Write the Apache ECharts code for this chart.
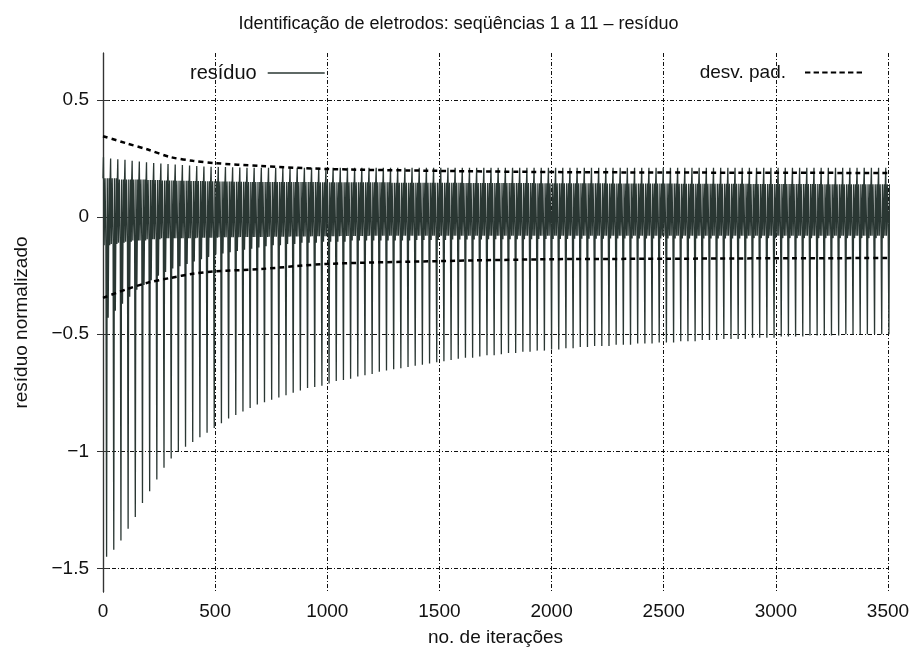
<!DOCTYPE html>
<html>
<head>
<meta charset="utf-8">
<script src="https://cdn.jsdelivr.net/npm/echarts@6/dist/echarts.min.js"></script>
<style>html,body{margin:0;padding:0;background:#fff}#c{width:917px;height:656px}</style>
</head>
<body>
<div id="c"></div>
<script>
// ---- data ----
const titleText = 'Identificação de eletrodos: seqüências 1 a 11 – resíduo';
const xTicks = [0, 500, 1000, 1500, 2000, 2500, 3000, 3500];
const yTicks = [-1.5, -1, -0.5, 0, 0.5];

// one cycle of the residual every 32 iterations; offsets inside a cycle
const cyclePeriod = 32;
const cycleOffsets = [0, 2, 5, 9, 13, 16, 19, 23, 27, 30];
const cycleLevels  = ['top', 'high', 'mid', 'top', 'mid', 'spike', 'top', 'low', 'top', 'mid'];

// lower spike tips, one per cycle
const spikeLow = [
 -1.45,-1.42,-1.38,-1.33,-1.28,-1.22,-1.17,-1.12,-1.07,-1.03,
 -1.00,-0.98,-0.96,-0.94,-0.92,-0.90,-0.88,-0.86,-0.845,-0.83,
 -0.815,-0.80,-0.79,-0.78,-0.77,-0.76,-0.75,-0.74,-0.73,-0.725,
 -0.72,-0.71,-0.70,-0.695,-0.69,-0.68,-0.675,-0.67,-0.66,-0.655,
 -0.65,-0.645,-0.64,-0.635,-0.63,-0.625,-0.62,-0.615,-0.61,-0.605,
 -0.60,-0.60,-0.595,-0.59,-0.59,-0.585,-0.58,-0.58,-0.575,-0.575,
 -0.57,-0.57,-0.565,-0.565,-0.56,-0.56,-0.555,-0.555,-0.55,-0.55,
 -0.55,-0.545,-0.545,-0.545,-0.54,-0.54,-0.54,-0.535,-0.535,-0.535,
 -0.53,-0.53,-0.53,-0.525,-0.525,-0.525,-0.52,-0.52,-0.52,-0.52,
 -0.515,-0.515,-0.515,-0.515,-0.51,-0.51,-0.51,-0.51,-0.505,-0.505,
 -0.505,-0.505,-0.505,-0.50,-0.50,-0.50,-0.50,-0.50,-0.50,-0.50
];
// upper spike tips, one per cycle
const spikeHigh = [
 0.255,0.25,0.247,0.244,0.24,0.237,0.234,0.231,0.228,0.226,
 0.224,0.222,0.22,0.218,0.216,0.215,0.214,0.213,0.212,0.211,
 0.21,0.21,0.21,0.21,0.21,0.21,0.21,0.21,0.21,0.21,
 0.21,0.21,0.21,0.21,0.21,0.21,0.21,0.21,0.21,0.21,
 0.21,0.21,0.21,0.21,0.21,0.21,0.21,0.21,0.21,0.21,
 0.21,0.21,0.21,0.21,0.21,0.21,0.21,0.21,0.21,0.21,
 0.21,0.21,0.21,0.21,0.21,0.21,0.21,0.21,0.21,0.21,
 0.21,0.21,0.21,0.21,0.21,0.21,0.21,0.21,0.21,0.21,
 0.21,0.21,0.21,0.21,0.21,0.21,0.21,0.21,0.21,0.21,
 0.21,0.21,0.21,0.21,0.21,0.21,0.21,0.21,0.21,0.21,
 0.21,0.21,0.21,0.21,0.21,0.21,0.21,0.21,0.21,0.21
];
// top of the dense band
const bandTop = [
 0.165,0.165,0.16,0.16,0.16,0.16,0.158,0.158,0.156,0.156,
 0.155,0.155,0.154,0.154,0.153,0.153,0.152,0.152,0.151,0.151,
 0.15,0.15,0.15,0.15,0.15,0.15,0.15,0.15,0.15,0.15,
 0.148,0.148,0.148,0.148,0.148,0.148,0.148,0.148,0.148,0.148,
 0.146,0.146,0.146,0.146,0.146,0.146,0.146,0.146,0.146,0.146,
 0.145,0.145,0.145,0.145,0.145,0.145,0.145,0.145,0.145,0.145,
 0.144,0.144,0.144,0.144,0.144,0.144,0.144,0.144,0.144,0.144,
 0.143,0.143,0.143,0.143,0.143,0.143,0.143,0.143,0.143,0.143,
 0.142,0.142,0.142,0.142,0.142,0.142,0.142,0.142,0.142,0.142,
 0.141,0.141,0.141,0.141,0.141,0.141,0.141,0.141,0.141,0.141,
 0.14,0.14,0.14,0.14,0.14,0.14,0.14,0.14,0.14,0.14
];
// middle of the dense band
const bandMid = [
 -0.12,-0.115,-0.11,-0.105,-0.10,-0.10,-0.095,-0.095,-0.09,-0.09,
 -0.09,-0.09,-0.09,-0.088,-0.088,-0.088,-0.086,-0.086,-0.086,-0.085,
 -0.085,-0.085,-0.085,-0.084,-0.084,-0.084,-0.083,-0.083,-0.083,-0.082,
 -0.082,-0.082,-0.082,-0.081,-0.081,-0.081,-0.081,-0.08,-0.08,-0.08,
 -0.08,-0.08,-0.08,-0.08,-0.08,-0.08,-0.08,-0.08,-0.08,-0.08,
 -0.08,-0.08,-0.08,-0.08,-0.08,-0.08,-0.08,-0.08,-0.08,-0.08,
 -0.08,-0.08,-0.08,-0.08,-0.08,-0.08,-0.08,-0.08,-0.08,-0.08,
 -0.08,-0.08,-0.08,-0.08,-0.08,-0.08,-0.08,-0.08,-0.08,-0.08,
 -0.08,-0.08,-0.08,-0.08,-0.08,-0.08,-0.08,-0.08,-0.08,-0.08,
 -0.08,-0.08,-0.08,-0.08,-0.08,-0.08,-0.08,-0.08,-0.08,-0.08,
 -0.08,-0.08,-0.08,-0.08,-0.08,-0.08,-0.08,-0.08,-0.08,-0.08
];
// lower edge of the band
const bandLow = [
 -0.43,-0.40,-0.37,-0.34,-0.31,-0.29,-0.27,-0.25,-0.235,-0.22,
 -0.21,-0.20,-0.19,-0.18,-0.17,-0.16,-0.155,-0.15,-0.145,-0.14,
 -0.135,-0.13,-0.125,-0.12,-0.12,-0.115,-0.115,-0.11,-0.11,-0.11,
 -0.105,-0.105,-0.105,-0.105,-0.10,-0.10,-0.10,-0.10,-0.10,-0.10,
 -0.10,-0.10,-0.10,-0.098,-0.098,-0.098,-0.098,-0.098,-0.096,-0.096,
 -0.096,-0.096,-0.096,-0.095,-0.095,-0.095,-0.095,-0.095,-0.095,-0.095,
 -0.094,-0.094,-0.094,-0.094,-0.094,-0.093,-0.093,-0.093,-0.093,-0.093,
 -0.092,-0.092,-0.092,-0.092,-0.092,-0.092,-0.092,-0.092,-0.092,-0.092,
 -0.091,-0.091,-0.091,-0.091,-0.091,-0.091,-0.091,-0.091,-0.091,-0.091,
 -0.09,-0.09,-0.09,-0.09,-0.09,-0.09,-0.09,-0.09,-0.09,-0.09,
 -0.09,-0.09,-0.09,-0.09,-0.09,-0.09,-0.09,-0.09,-0.09,-0.09
];

// standard deviation envelope
const stdIter  = [0, 100, 200, 300, 400, 500, 700, 1000, 1500, 2000, 2500, 3000, 3500];
const stdUpper = [0.345, 0.316, 0.288, 0.256, 0.24, 0.23, 0.218, 0.205, 0.197, 0.192, 0.19, 0.189, 0.188];
const stdLower = [-0.345, -0.31, -0.28, -0.26, -0.242, -0.232, -0.222, -0.2, -0.188, -0.18, -0.178, -0.176, -0.175];

// ---- build series ----
const levels = {top: bandTop, high: spikeHigh, mid: bandMid, spike: spikeLow, low: bandLow};
const residuo = [];
for (let k = 0; k < spikeLow.length; k++) {
  for (let j = 0; j < cycleOffsets.length; j++) {
    residuo.push([k * cyclePeriod + cycleOffsets[j], levels[cycleLevels[j]][k]]);
  }
}
const upper = stdIter.map((x, i) => [x, stdUpper[i]]);
const lower = stdIter.map((x, i) => [x, stdLower[i]]);

const font = 'Liberation Sans, Arial, sans-serif';
const fmtY = v => String(v).replace('-', '\u2212');
const fmtX = v => String(v);
const gridLine = {show: true, lineStyle: {color: '#111', width: 1, type: [4, 2, 1, 2]}};
const frame = {show: true, lineStyle: {color: '#333', width: 1.2}};
const tick = {show: true, inside: true, length: 6, lineStyle: {color: '#333'}};
const dashIcon = 'path://M0,0h5v2h-5zM8,0h5v2h-5zM16,0h5v2h-5zM24,0h5v2h-5zM32,0h5v2h-5zM40,0h5v2h-5zM48,0h5v2h-5z';

const chart = echarts.init(document.getElementById('c'), null, {renderer: 'canvas'});
chart.setOption({
  animation: false,
  backgroundColor: '#fff',
  title: {text: titleText, left: 'center', top: 10,
    textStyle: {fontFamily: font, fontSize: 18, fontWeight: 'normal', color: '#111'}},
  grid: {left: 103, right: 29, top: 53, bottom: 64},
  legend: [
    {data: [{name: 'resíduo', icon: 'rect'}], left: 190, top: 63, align: 'right', padding: 0,
      itemWidth: 57, itemHeight: 1.5, itemGap: 10,
      textStyle: {fontFamily: font, fontSize: 20, color: '#111', padding: [0, 6, 0, 0]}},
    {data: [{name: 'desv. pad.', icon: dashIcon}], right: 55, top: 63, align: 'right', padding: 0,
      itemWidth: 57, itemHeight: 2.5, itemGap: 10,
      textStyle: {fontFamily: font, fontSize: 19, color: '#111', padding: [0, 14, 0, 0]}}
  ],
  xAxis: [
    {type: 'value', min: 0, max: 3500, interval: 500, position: 'bottom',
      name: 'no. de iterações', nameLocation: 'middle', nameGap: 36,
      nameTextStyle: {fontFamily: font, fontSize: 19, color: '#111'},
      axisLine: frame, axisTick: tick,
      axisLabel: {fontFamily: font, fontSize: 19, color: '#111', margin: 10, formatter: fmtX},
      splitLine: gridLine},
    {type: 'value', min: 0, max: 3500, interval: 500, position: 'top',
      axisLine: frame, axisTick: tick,
      axisLabel: {show: false}, splitLine: {show: false}}
  ],
  yAxis: [
    {type: 'value', min: -1.6, max: 0.7, position: 'left',
      name: 'resíduo normalizado', nameLocation: 'middle', nameGap: 72,
      nameTextStyle: {fontFamily: font, fontSize: 19, color: '#111'},
      axisLine: frame,
      axisTick: Object.assign({customValues: yTicks}, tick),
      axisLabel: {fontFamily: font, fontSize: 19, color: '#111', margin: 14, customValues: yTicks, formatter: fmtY},
      splitLine: gridLine},
    {type: 'value', min: -1.6, max: 0.7, position: 'right',
      axisLine: frame,
      axisTick: Object.assign({customValues: yTicks}, tick),
      axisLabel: {show: false}, splitLine: {show: false}}
  ],
  series: [
    {name: 'resíduo', type: 'line', data: residuo, symbol: 'none', showSymbol: false,
      lineStyle: {color: '#2a3733', width: 1.3}, itemStyle: {color: '#2a3733'}, z: 2},
    {name: 'desv. pad.', type: 'line', data: upper, symbol: 'none', smooth: 0.3,
      lineStyle: {color: '#000', width: 2.5, type: [5, 4]}, itemStyle: {color: '#000'}, z: 3},
    {name: 'desv. pad.', type: 'line', data: lower, symbol: 'none', smooth: 0.3,
      lineStyle: {color: '#000', width: 2.5, type: [5, 4]}, itemStyle: {color: '#000'}, z: 3}
  ]
});
</script>
</body>
</html>
